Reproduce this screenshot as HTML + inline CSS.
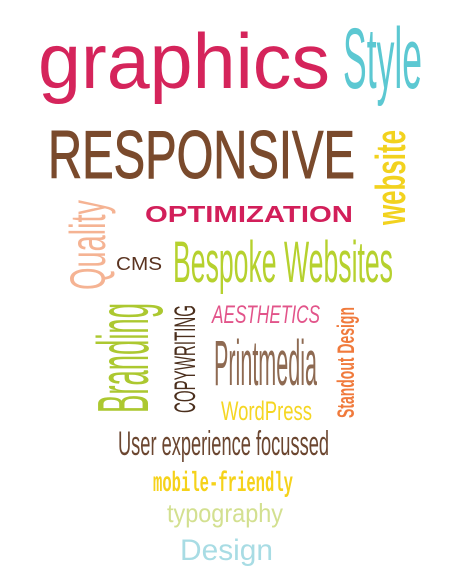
<!DOCTYPE html>
<html><head><meta charset="utf-8"><style>
html,body{margin:0;padding:0;background:#fff;width:450px;height:578px;overflow:hidden}
svg{display:block}
text{font-family:"Liberation Sans",sans-serif}
</style></head><body>
<svg width="450" height="578" viewBox="0 0 450 578">
<text x="38" y="88" font-size="78" fill="#d5245b" textLength="292" lengthAdjust="spacingAndGlyphs">graphics</text>
<text x="343" y="88" font-size="86" fill="#5cc8d2" textLength="79" lengthAdjust="spacingAndGlyphs">Style</text>
<text x="48" y="178" font-size="68" fill="#7a4a2c" stroke="#7a4a2c" stroke-width="1" textLength="307" lengthAdjust="spacingAndGlyphs">RESPONSIVE</text>
<text transform="translate(405,225) rotate(-90)" font-size="42" font-weight="bold" fill="#f2d21e" textLength="95" lengthAdjust="spacingAndGlyphs">website</text>
<text x="145" y="222" font-size="23" font-weight="bold" fill="#d21f5a" textLength="208" lengthAdjust="spacingAndGlyphs">OPTIMIZATION</text>
<text transform="translate(105,290) rotate(-90)" font-size="50" fill="#f5b393" textLength="90" lengthAdjust="spacingAndGlyphs">Quality</text>
<text x="116" y="270" font-size="18" fill="#5a3320" textLength="46" lengthAdjust="spacingAndGlyphs">CMS</text>
<text x="173" y="282" font-size="58" fill="#b6d12e" textLength="220" lengthAdjust="spacingAndGlyphs">Bespoke Websites</text>
<text transform="translate(148,413) rotate(-90)" font-size="72" fill="#acc830" textLength="110" lengthAdjust="spacingAndGlyphs">Branding</text>
<text transform="translate(195,413) rotate(-90)" font-size="30" fill="#4a2e1c" textLength="108" lengthAdjust="spacingAndGlyphs">COPYWRITING</text>
<text x="212" y="323" font-size="25" font-style="italic" fill="#e2548a" textLength="108" lengthAdjust="spacingAndGlyphs">AESTHETICS</text>
<text transform="translate(354,418) rotate(-90)" font-size="24" font-weight="bold" fill="#f07a3c" textLength="111" lengthAdjust="spacingAndGlyphs">Standout Design</text>
<text x="214" y="385" font-size="64" fill="#8e6a52" textLength="103" lengthAdjust="spacingAndGlyphs">Printmedia</text>
<text x="221" y="420" font-size="27" fill="#f5d623" textLength="91" lengthAdjust="spacingAndGlyphs">WordPress</text>
<text x="118" y="455" font-size="34" fill="#6b4630" textLength="211" lengthAdjust="spacingAndGlyphs">User experience focussed</text>
<text x="153" y="491" font-size="28" font-weight="bold" fill="#f5d21a" style="font-family:'Liberation Mono',monospace" textLength="140" lengthAdjust="spacingAndGlyphs">mobile-friendly</text>
<text x="167" y="522" font-size="26" fill="#d3e090" textLength="116" lengthAdjust="spacingAndGlyphs">typography</text>
<text x="180" y="560" font-size="30" fill="#a8dce4" textLength="93" lengthAdjust="spacingAndGlyphs">Design</text>
</svg>
</body></html>
